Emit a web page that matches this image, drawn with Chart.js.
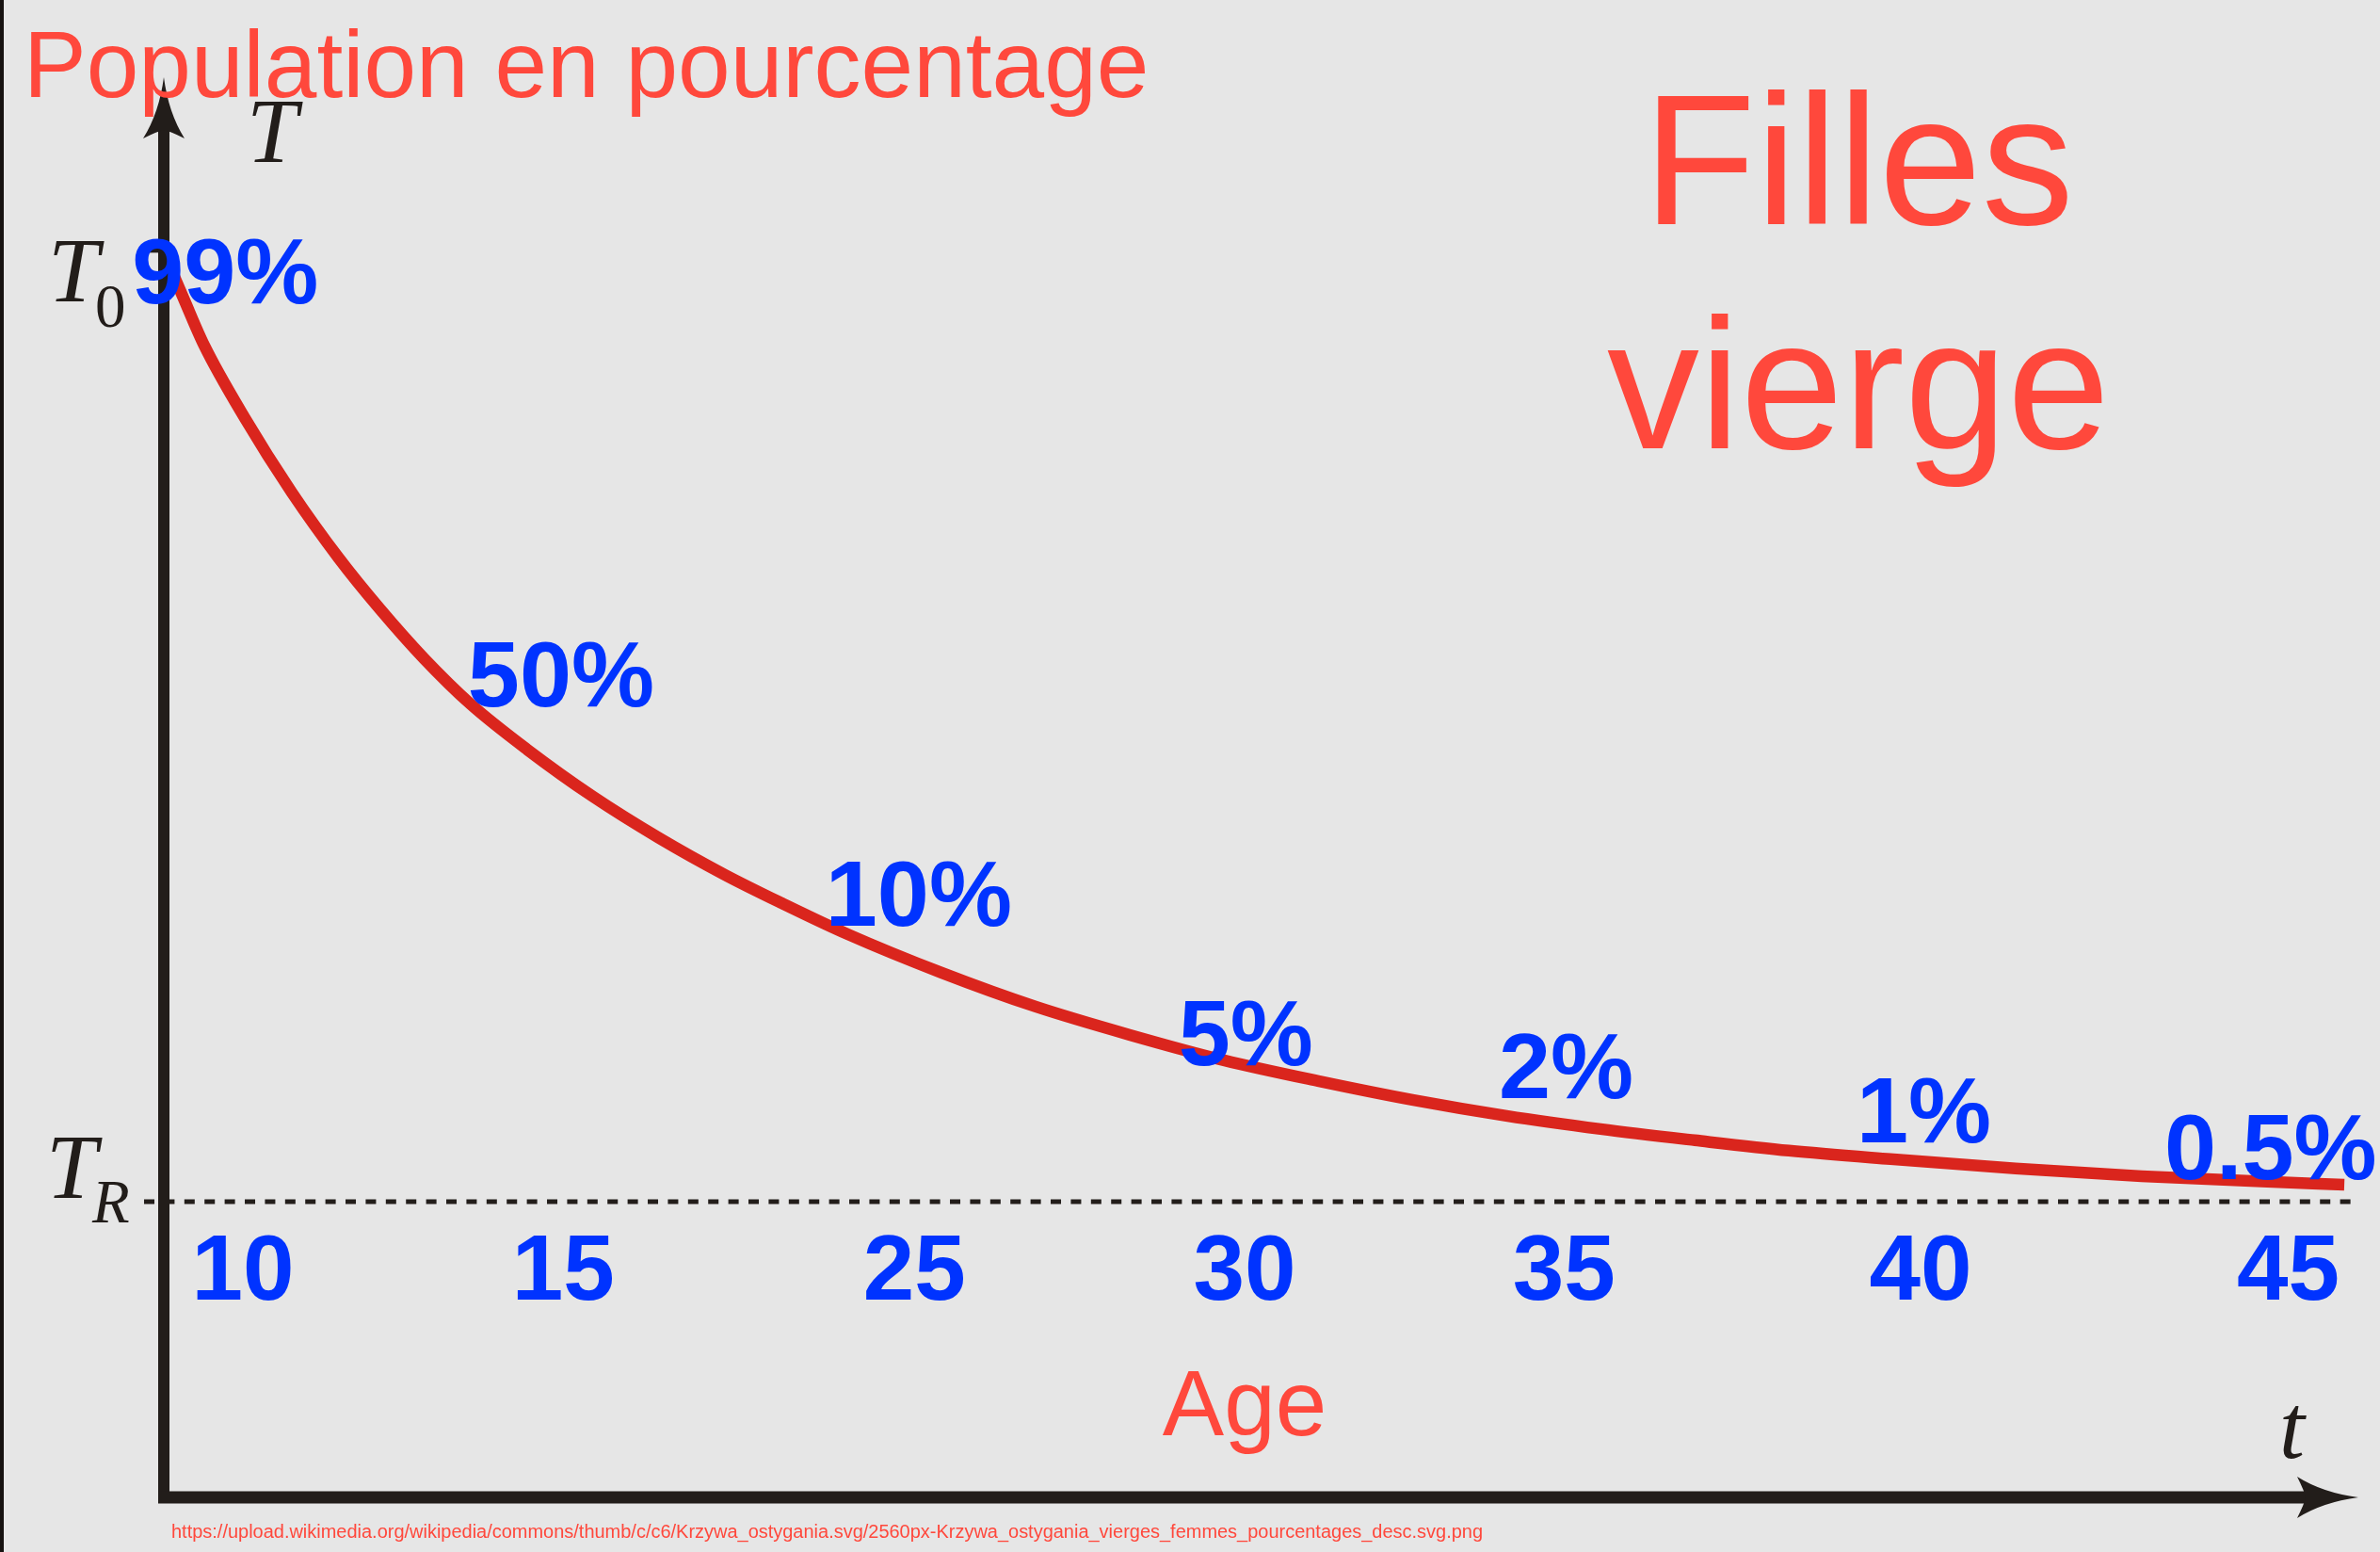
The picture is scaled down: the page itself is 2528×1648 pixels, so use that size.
<!DOCTYPE html>
<html>
<head>
<meta charset="utf-8">
<script src="https://cdn.jsdelivr.net/npm/chart.js@4.4.1/dist/chart.umd.min.js"></script>
<style>
  html, body { margin: 0; padding: 0; background: #e6e6e6; }
  canvas { display: block; }
</style>
</head>
<body>
<canvas id="c" width="2528" height="1648"></canvas>
<script>
// ---- data (schematic units: x 0..100 along the time axis, y: TR = 0, T0 = 100) ----
const ageLabels = ['10', '15', '25', '30', '35', '40', '45'];
const agePosX   = [3.6, 18.2, 34.2, 49.25, 63.8, 80.05, 96.8];
const ageLabelY = -10.3;

const pctLabels = ['99%', '50%', '10%', '5%', '2%', '1%', '0.5%'];
const pctPosX   = [2.8, 18.1, 34.4, 49.3, 63.9, 80.2, 96.0];
const pctPosY   = [94.4, 52.1, 29.0, 14.3, 10.9, 6.2, 2.4];

const curveX = [0, 0.9, 1.84, 3.69, 5.83, 7.98, 9.82, 11.84, 13.99, 16.56, 19.56, 22.57, 25.57, 28.15, 31.15,
                35.44, 39.73, 44.02, 48.31, 52.60, 56.89, 61.18, 65.47, 69.76, 74.05, 78.68, 84.38, 90.13, 95.84, 99.36];
const curveY = [99.80, 94.95, 90.00, 82.37, 74.55, 67.62, 62.37, 57.13, 52.27, 47.52, 42.57, 38.22, 34.35, 31.38, 28.12,
                24.06, 20.49, 17.52, 14.85, 12.67, 10.69, 9.01, 7.62, 6.44, 5.35, 4.46, 3.47, 2.67, 2.08, 1.78];

const levelT0 = 100;
const levelTR = 0;
const trLineX = [-0.9, 99.66];

const titleText = 'Population en pourcentage';
const bigText   = ['Filles', 'vierge'];
const xAxisText = 'Age';
const urlText   = 'https://upload.wikimedia.org/wikipedia/commons/thumb/c/c6/Krzywa_ostygania.svg/2560px-Krzywa_ostygania_vierges_femmes_pourcentages_desc.svg.png';

// ---- styles ----
const BG = '#e6e6e6';
const AXIS = '#221d1a';
const CURVE = '#da251d';
const RED = '#ff483c';
const BLUE = '#0033ff';
const SANS = "'Liberation Sans', Arial, Helvetica, sans-serif";
const SERIF = "'Liberation Serif', 'Times New Roman', serif";

function txt(ctx, s, px, py, font, color, align) {
  ctx.font = font;
  ctx.fillStyle = color;
  ctx.textAlign = align || 'left';
  ctx.textBaseline = 'alphabetic';
  ctx.fillText(s, px, py);
}

const decor = {
  id: 'decor',
  beforeDraw(chart) {
    const { ctx, width, height } = chart;
    ctx.save();
    ctx.fillStyle = BG;
    ctx.fillRect(0, 0, width, height);
    ctx.fillStyle = '#161210';
    ctx.fillRect(0, 0, 4, height);
    ctx.restore();
  },
  afterDatasetsDraw(chart) {
    const { ctx, chartArea: a, scales } = chart;
    const xs = scales.x, ys = scales.y;
    const x0 = xs.getPixelForValue(0);
    const yb = a.bottom;
    ctx.save();
    ctx.strokeStyle = AXIS;
    ctx.fillStyle = AXIS;
    ctx.lineCap = 'butt';

    // axes
    ctx.lineWidth = 12;
    ctx.beginPath(); ctx.moveTo(x0, yb); ctx.lineTo(x0, a.top + 50); ctx.stroke();
    ctx.lineWidth = 13;
    ctx.beginPath(); ctx.moveTo(x0 - 6, yb); ctx.lineTo(a.right - 50, yb); ctx.stroke();

    // vertical arrow head
    const t = a.top;
    ctx.beginPath();
    ctx.moveTo(x0, t);
    ctx.quadraticCurveTo(x0 + 5, t + 38, x0 + 22, t + 65);
    ctx.quadraticCurveTo(x0 + 6, t + 57, x0, t + 56);
    ctx.quadraticCurveTo(x0 - 6, t + 57, x0 - 22, t + 65);
    ctx.quadraticCurveTo(x0 - 5, t + 38, x0, t);
    ctx.closePath();
    ctx.fill();

    // horizontal arrow head
    const r = a.right;
    ctx.beginPath();
    ctx.moveTo(r, yb);
    ctx.quadraticCurveTo(r - 38, yb - 5, r - 65, yb - 22);
    ctx.quadraticCurveTo(r - 57, yb - 6, r - 56, yb);
    ctx.quadraticCurveTo(r - 57, yb + 6, r - 65, yb + 22);
    ctx.quadraticCurveTo(r - 38, yb + 5, r, yb);
    ctx.closePath();
    ctx.fill();

    // T0 tick
    const yT0 = ys.getPixelForValue(levelT0);
    ctx.lineWidth = 5;
    ctx.beginPath(); ctx.moveTo(x0 - 21, yT0); ctx.lineTo(x0, yT0); ctx.stroke();

    // axis symbols
    const yTR = ys.getPixelForValue(levelTR);
    txt(ctx, 'T', 262, 172, 'italic 97px ' + SERIF, AXIS);
    txt(ctx, 'T', 51, yT0 + 54, 'italic 97px ' + SERIF, AXIS);
    txt(ctx, '0', 101, yT0 + 81, '65px ' + SERIF, AXIS);
    txt(ctx, 'T', 49, yTR - 4, 'italic 97px ' + SERIF, AXIS);
    txt(ctx, 'R', 98, yTR + 22, 'italic 65px ' + SERIF, AXIS);
    txt(ctx, 't', 2421, 1548, 'italic 97px ' + SERIF, AXIS);

    // percentage labels
    pctLabels.forEach((s, i) => {
      txt(ctx, s, xs.getPixelForValue(pctPosX[i]), ys.getPixelForValue(pctPosY[i]), 'bold 99px ' + SANS, BLUE, 'center');
    });
    // age labels
    ageLabels.forEach((s, i) => {
      txt(ctx, s, xs.getPixelForValue(agePosX[i]), ys.getPixelForValue(ageLabelY), 'bold 98px ' + SANS, BLUE, 'center');
    });

    // red texts
    txt(ctx, titleText, 25, 103, '100px ' + SANS, RED);
    txt(ctx, bigText[0], 1974, 238, '196px ' + SANS, RED, 'center');
    txt(ctx, bigText[1], 1974, 476, '196px ' + SANS, RED, 'center');
    txt(ctx, xAxisText, xs.getPixelForValue(agePosX[3]), 1524, '98px ' + SANS, RED, 'center');

    // source url, fitted to its width in the picture
    ctx.font = '20px ' + SANS;
    const w = ctx.measureText(urlText).width;
    const fs = 20 * 1394 / w;
    txt(ctx, urlText, 182, 1633, fs.toFixed(2) + 'px ' + SANS, RED);

    ctx.restore();
  }
};

new Chart(document.getElementById('c'), {
  type: 'line',
  data: {
    datasets: [
      {
        data: curveX.map((v, i) => ({ x: v, y: curveY[i] })),
        borderColor: CURVE,
        borderWidth: 12.5,
        borderCapStyle: 'butt',
        pointRadius: 0,
        cubicInterpolationMode: 'monotone',
        fill: false,
        clip: false
      },
      {
        data: trLineX.map(v => ({ x: v, y: levelTR })),
        borderColor: AXIS,
        borderWidth: 5,
        borderDash: [11, 10.4],
        borderCapStyle: 'butt',
        pointRadius: 0,
        fill: false,
        clip: false
      }
    ]
  },
  options: {
    responsive: false,
    animation: false,
    devicePixelRatio: 1,
    events: [],
    layout: { padding: { left: 174, top: 82, right: 23, bottom: 58 } },
    scales: {
      x: { type: 'linear', min: 0, max: 100, display: false },
      y: { type: 'linear', min: -31.1, max: 118.2, display: false }
    },
    plugins: {
      legend: { display: false },
      tooltip: { enabled: false },
      title: { display: false }
    }
  },
  plugins: [decor]
});
</script>
</body>
</html>
